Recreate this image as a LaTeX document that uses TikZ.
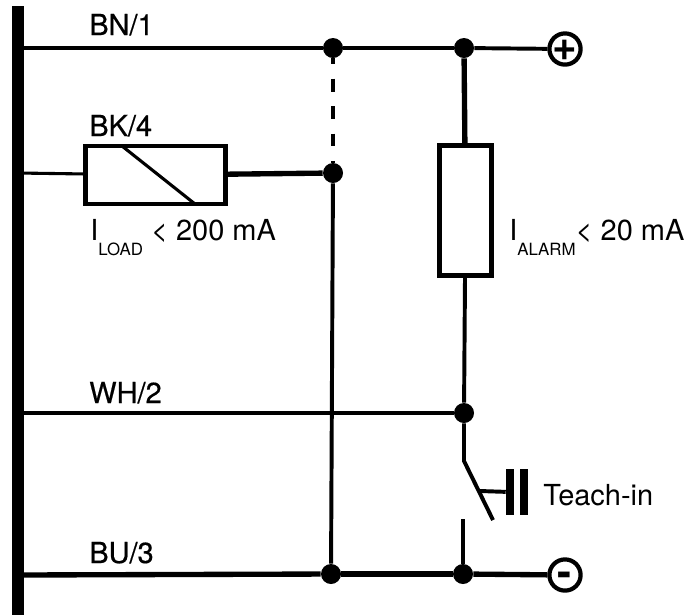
\documentclass[tikz,border=0pt]{standalone}
\usepackage{fontspec}
\usepackage{tikz}
\setmainfont{TeX Gyre Heros}
\newcommand{\lowtext}[1]{\raisebox{-1.0ex}{\fontsize{12}{12}\selectfont #1}}
\newcommand{\sign}[1]{\makebox[0pt]{\smash{\raisebox{-0.28em}{#1}}}}
\tikzset{
    wire/.style={black,line width=2.8pt},
    thinwire/.style={black,line width=2.2pt},
    fatwire/.style={black,line width=3.8pt},
    dot/.style={circle,fill=black,inner sep=0pt,minimum size=0.5cm},
    terminal/.style={circle,draw=black,line width=3pt,fill=white,inner sep=0pt,minimum size=0.78cm,font=\fontsize{30}{30}\selectfont\bfseries},
    loadbox/.style={draw=black,line width=3pt,inner sep=0pt},
    plate/.style={fill=black,inner sep=0pt,minimum width=0.2cm,minimum height=1.15cm},
    label/.style={anchor=base west,inner sep=0pt,font=\fontsize{20.6}{20.6}\selectfont},
    wirelabel/.style={label,font=\fontsize{20.6}{20.6}\selectfont\addfontfeatures{FakeBold=0.5}},
}

\begin{document}
\begin{tikzpicture}[x=0.025cm,y=-0.025cm]
    \useasboundingbox (0,0) rectangle (689,614);
    % bus on the left
    \node[fill=black,inner sep=0pt,minimum width=0.3cm,minimum height=15.2cm] (bus) at (18,310.5) {};
    \coordinate (busbn) at (18,48);
    \coordinate (busbk) at (18,173);
    \coordinate (buswh) at (18,413);
    \coordinate (busbu) at (18,575);
    % junctions
    \node[dot] (dota) at (333,48) {};
    \node[dot] (dotb) at (464,48) {};
    \node[dot] (dotc) at (333,173) {};
    \node[dot] (dotd) at (464,413) {};
    \node[dot] (dote) at (331,574) {};
    \node[dot] (dotf) at (463,574) {};
    \node[terminal] (plus) at (565,49) {\sign{+}};
    \node[terminal] (minus) at (565,575) {\sign{-}};
    % boxes
    \node[loadbox,minimum width=3.5cm,minimum height=1.45cm] (load) at (155.5,175) {};
    \node[loadbox,minimum width=1.3cm,minimum height=3.25cm] (alarm) at (465.5,210.5) {};
    \coordinate (relaya) at (122,146);
    \coordinate (relayb) at (195,204);
    \draw [thinwire](relaya) -- (relayb);
    % wires
    \draw [wire](busbn) -- (dota);
    \draw [wire](dota) -- (dotb);
    \draw [wire](dotb) -- (plus);
    \draw [thinwire](busbk) -- (load);
    \draw [fatwire](load) -- (dotc);
    \draw [wire,dash pattern=on 9.2pt off 10.3pt,dash phase=5pt](dota) -- (dotc);
    \draw [wire](dotc) -- (dote);
    \draw [fatwire](dotb) -- (alarm);
    \draw [wire](alarm) -- (dotd);
    \draw [thinwire](buswh) -- (dotd);
    \draw [fatwire](busbu) -- (dote);
    \draw [fatwire](dote) -- (dotf);
    \draw [fatwire](dotf) -- (minus);
    % switch
    \coordinate (swtop) at (464,461);
    \coordinate (swend) at (493,520);
    \coordinate (swmid) at (480,491);
    \coordinate (swlow) at (463,519);
    \node[plate] (platea) at (510,492) {};
    \node[plate] (plateb) at (524,492) {};
    \draw [wire,line join=round](dotd) -- (swtop) -- (swend);
    \draw [wire](swmid) -- (platea);
    \draw [wire](swlow) -- (dotf);
    % labels
    \node[wirelabel] (bn) at (89,35) {BN/1};
    \node[wirelabel] (bk) at (89,136) {BK/4};
    \node[wirelabel] (wh) at (89,403) {WH/2};
    \node[wirelabel] (bu) at (89,563) {BU/3};
    \node[label] (iload) at (90,240) {I\lowtext{LOAD} < 200 mA};
    \node[label] (ialarm) at (509,240) {I\lowtext{ALARM}< 20 mA};
    \node[label] (teach) at (543,505) {Teach-in};
\end{tikzpicture}
\end{document}
